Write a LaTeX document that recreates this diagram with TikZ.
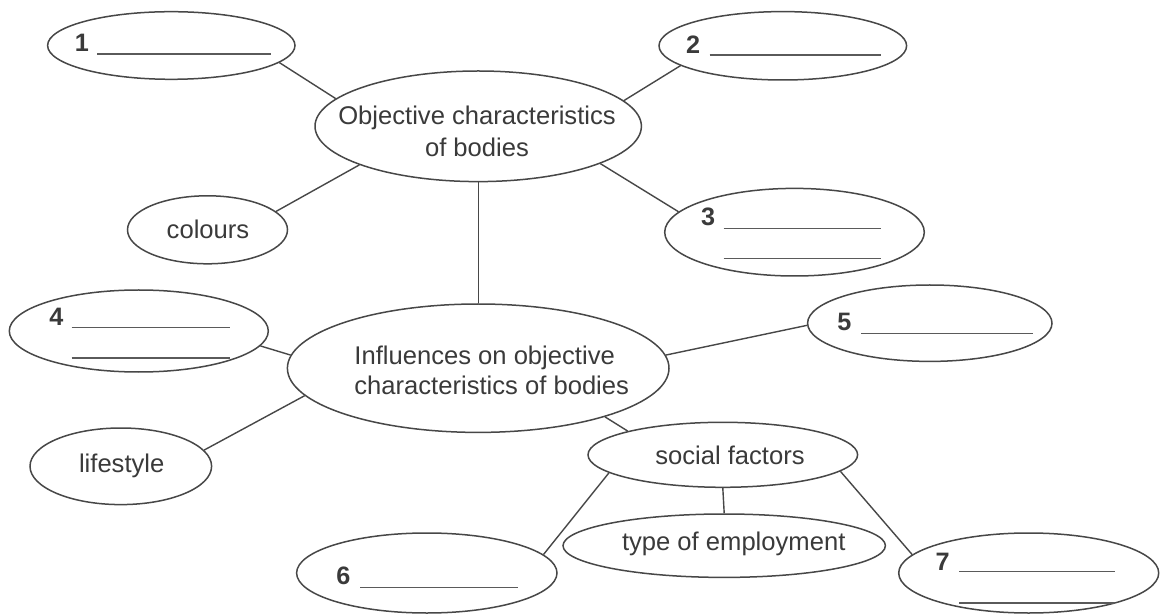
\documentclass[tikz,border=0pt]{standalone}
\usepackage{fontspec}
\setmainfont{Liberation Sans}
\usetikzlibrary{shapes.geometric}
\definecolor{ink}{HTML}{3A3A3A}
\definecolor{edge}{HTML}{474747}
\definecolor{blankc}{HTML}{5A5A5A}
\begin{document}
\begin{tikzpicture}[x=0.5pt,y=-0.5pt,
  oval/.style 2 args={ellipse, draw=edge, line width=0.75pt, minimum width=#1pt, minimum height=#2pt, inner sep=0pt},
  conn/.style={draw=edge, line width=0.7pt},
  blank/.style={draw=blankc, line width=0.75pt},
  txt/.style={text=ink, inner sep=0pt, font=\fontsize{12.8}{15.5}\selectfont},
  num/.style={text=ink, inner sep=0pt, font=\bfseries\fontsize{12.6}{15}\selectfont}]
\useasboundingbox[fill=white] (0,0) rectangle (1166,614);

% ellipses
\node[oval={123.7}{33.8}] (e1) at (171.3,45.5) {};
\node[oval={163.2}{55.3}] (obj) at (478.2,126.3) {};
\node[oval={123.8}{34.2}] (e2) at (782.8,45.8) {};
\node[oval={129.8}{43.8}] (e3) at (794.5,232.2) {};
\node[oval={80}{34}] (col) at (207.5,229.8) {};
\node[oval={129.5}{41}] (e4) at (138.8,331) {};
\node[oval={190.8}{64.2}] (infl) at (478.2,368.2) {};
\node[oval={122.2}{38.2}] (e5) at (929.8,323.2) {};
\node[oval={90.8}{38.3}] (life) at (120.8,466.3) {};
\node[oval={134.8}{32.5}] (soc) at (722.8,454.8) {};
\node[oval={161.2}{31.7}] (typ) at (724.2,545.7) {};
\node[oval={130.2}{40}] (e6) at (426.8,573) {};
\node[oval={130}{40}] (e7) at (1028.7,573) {};

% texts
\node[txt, align=center, font=\fontsize{12.8}{16}\selectfont] (tobj) at (477,131) {Objective characteristics\\of bodies};
\node[txt] (tcol) at (208,229.8) {colours};
\node[txt, align=left, anchor=west, font=\fontsize{12.8}{15}\selectfont] (tinfl) at (354,370.7) {Influences on objective\\characteristics of bodies};
\node[txt] (tlife) at (121.7,466) {lifestyle};
\node[txt] (tsoc) at (730,455.7) {social factors};
\node[txt] (ttyp) at (733.7,544) {type of employment};

\node[num] (n1) at (82,43) {1};
\node[num] (n2) at (693,45) {2};
\node[num] (n3) at (708,217.3) {3};
\node[num] (n4) at (56.5,317.3) {4};
\node[num] (n5) at (844.3,322.3) {5};
\node[num] (n6) at (343.3,575.7) {6};
\node[num] (n7) at (942.7,562.3) {7};

% answer blanks
\draw[blank] (97,54) -- (271,54);
\draw[blank] (709.7,55) -- (881,55);
\draw[blank] (723.7,228.3) -- (881,228.3);
\draw[blank] (723.7,258.3) -- (881,258.3);
\draw[blank] (71.7,327.3) -- (230,327.3);
\draw[blank] (71.7,358) -- (230,358);
\draw[blank] (861,333.3) -- (1032.7,333.3);
\draw[blank] (360,587.3) -- (518,587.3);
\draw[blank] (959.3,571.7) -- (1115.3,571.7);
\draw[blank] (959.3,603) -- (1115.3,603);

% connectors
\draw[conn] (e1.-9.4) -- (obj.169.1);
\draw[conn] (obj.10.7) -- (e2.-169.1);
\draw[conn] (obj.-17.2) -- (e3.170);
\draw[conn] (col.15.1) -- (obj.-162.9);
\draw[conn] (obj.-90) -- (infl.90);
\draw[conn] (e4.-7.3) -- (infl.176.2);
\draw[conn] (life.11.7) -- (infl.-171.8);
\draw[conn] (infl.4.3) -- (e5.-179.6);
\draw[conn] (infl.-21.1) -- (soc.166.2);
\draw[conn] (soc.-90) -- (typ.90);
\draw[conn] (soc.-171.7) -- (e6.9.9);
\draw[conn] (soc.-8.1) -- (e7.171);
\end{tikzpicture}
\end{document}
